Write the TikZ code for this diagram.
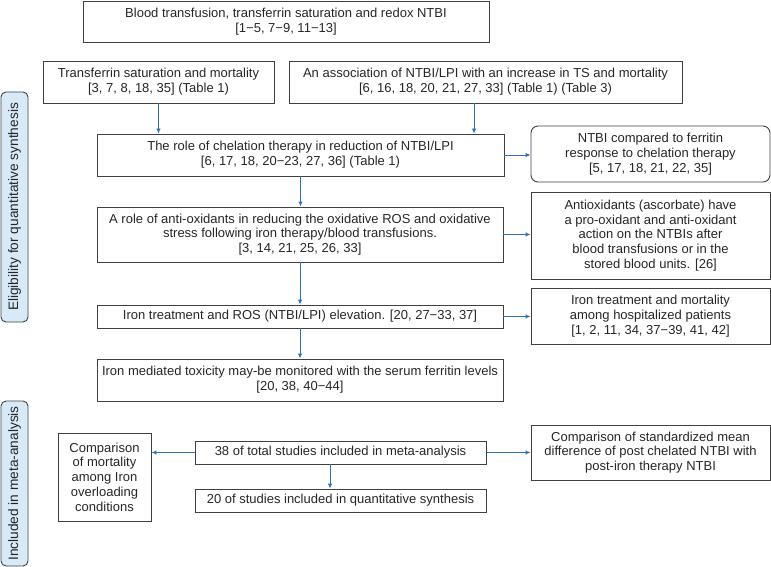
\documentclass[tikz,border=0pt]{standalone}
\usepackage{fontspec}
\setmainfont{Liberation Sans}
\usetikzlibrary{arrows.meta,positioning}
\definecolor{arrblue}{HTML}{2E75B6}
\definecolor{sidefill}{HTML}{D8EAF8}
\definecolor{boxline}{HTML}{404040}
\tikzset{
  box/.style={draw=boxline, line width=0.9pt, inner sep=0pt, align=center,
    font=\fontsize{13}{14.8}\selectfont, text=black!85},
  rbox/.style={box, rounded corners=7pt},
  side/.style={draw=boxline, line width=0.9pt, fill=sidefill, rounded corners=5pt,
    inner sep=0pt, align=center},
  sidetext/.style={rotate=90, font=\fontsize{13.7}{15}\selectfont, text=black!85},
  arr/.style={draw=arrblue, line width=0.9pt, -{Latex[length=5pt,width=4.5pt]}},
}
\newcommand{\bx}[7]{% name, x1, x2, y1, y2, style, text
  \node[#6, minimum width={#3-#2}, minimum height={#5-#4}] (#1) at ({(#2+#3)/2},{(#4+#5)/2}) {#7};}
\begin{document}
\begin{tikzpicture}[x=1pt,y=-1pt]
\useasboundingbox (0,0) rectangle (771,567);
\bx{b1}{83}{489}{1}{42}{box}{Blood transfusion, transferrin saturation and redox NTBI\\{[}1−5, 7−9, 11−13]}
\bx{b2}{43}{274}{61}{103}{box}{Transferrin saturation and mortality\\{[}3, 7, 8, 18, 35] (Table 1)}
\bx{b3}{289}{682}{61}{103}{box}{An association of NTBI/LPI with an increase in TS and mortality\\{[}6, 16, 18, 20, 21, 27, 33] (Table 1) (Table 3)}
\bx{b4}{97}{504}{134}{176}{box}{The role of chelation therapy in reduction of NTBI/LPI\\{[}6, 17, 18, 20−23, 27, 36] (Table 1)}
\bx{b5}{531}{770}{126}{182}{rbox}{NTBI compared to ferritin\\response to chelation therapy\\{[}5, 17, 18, 21, 22, 35]}
\bx{b6}{97}{503}{207}{262}{box}{A role of anti-oxidants in reducing the oxidative ROS and oxidative\\stress following iron therapy/blood transfusions.\\{[}3, 14, 21, 25, 26, 33]}
\bx{b7}{531}{770}{192}{279}{box}{Antioxidants (ascorbate) have\\a pro-oxidant and anti-oxidant\\action on the NTBIs after\\blood transfusions or in the\\stored blood units. [26]}
\bx{b8}{97}{503}{305}{328}{box}{Iron treatment and ROS (NTBI/LPI) elevation. [20, 27−33, 37]}
\bx{b9}{531}{770}{288}{344}{box}{Iron treatment and mortality\\among hospitalized patients\\{[}1, 2, 11, 34, 37−39, 41, 42]}
\bx{b10}{97}{503}{359}{401}{box}{Iron mediated toxicity may-be monitored with the serum ferritin levels\\{[}20, 38, 40−44]}
\bx{b11}{195}{486}{441}{464}{box}{38 of total studies included in meta-analysis}
\bx{b12}{195}{486}{489}{512}{box}{20 of studies included in quantitative synthesis}
\bx{b13}{58}{151}{433}{521}{box}{Comparison\\of mortality\\among Iron\\overloading\\conditions}
\bx{b14}{531}{770}{425}{480}{box}{Comparison of standardized mean\\difference of post chelated NTBI with\\post-iron therapy NTBI}
\node[side, minimum width=27, minimum height=230] (s1) at (14.5,207) {};
\node[sidetext] (s1t) at (s1.center) {Eligibility for quantitative synthesis};
\node[side, minimum width=27, minimum height=165] (s2) at (14.5,483.5) {};
\node[sidetext] (s2t) at (s2.center) {Included in meta-analysis};
% arrows
\draw[arr] (b2.south) -- (b2.south |- b4.north);
\draw[arr] ([xshift=-11.5pt]b3.south) -- ([xshift=-11.5pt]b3.south |- b4.north);
\draw[arr] (b4.south) -- (b4.south |- b6.north);
\draw[arr] (b6.south) -- (b6.south |- b8.north);
\draw[arr] (b8.south) -- (b8.south |- b10.north);
\draw[arr] (b4.east) -- (b4.east -| b5.west);
\draw[arr] (b6.east) -- (b6.east -| b7.west);
\draw[arr] (b8.east) -- (b8.east -| b9.west);
\draw[arr] ([xshift=-10.5pt]b11.south) -- ([xshift=-10.5pt]b11.south |- b12.north);
\draw[arr] (b11.west) -- (b11.west -| b13.east);
\draw[arr] (b11.east) -- (b11.east -| b14.west);
\end{tikzpicture}
\end{document}
